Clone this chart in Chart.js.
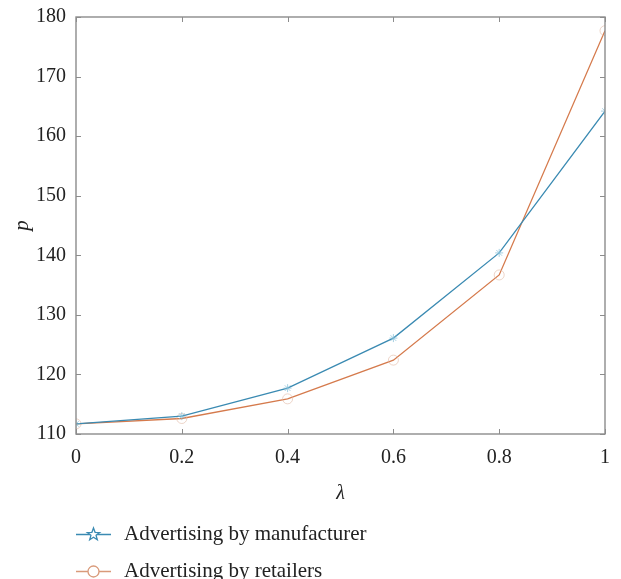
<!DOCTYPE html>
<html>
<head>
<meta charset="utf-8">
<script src="https://cdn.jsdelivr.net/npm/chart.js@4.4.1/dist/chart.umd.min.js"></script>
<style>
  html, body { margin: 0; padding: 0; background: #fff; }
  #wrap { position: relative; width: 621px; height: 579px; }
</style>
</head>
<body>
<div id="wrap"><canvas id="c" width="621" height="579"></canvas></div>
<script>
// λ values on the horizontal axis
const lambdaValues = [0, 0.2, 0.4, 0.6, 0.8, 1];
// Price p under each advertising arrangement
const manufacturerP = [111.7, 113.0, 117.7, 126.1, 140.4, 164.2];
const retailerP = [111.7, 112.6, 115.9, 122.4, 136.7, 177.7];
const seriesNames = ['Advertising by manufacturer', 'Advertising by retailers'];
const xTicks = [0, 0.2, 0.4, 0.6, 0.8, 1];
const yTicks = [110, 120, 130, 140, 150, 160, 170, 180];

const blue = '#3a8ab2';
const orange = '#d57a4c';
const serif = '"Liberation Serif", "DejaVu Serif", serif';

function toPoints(xs, ys) { return xs.map((x, i) => ({ x: x, y: ys[i] })); }

// Box frame with inward ticks on all four sides, plus a line+marker legend
const frameAndLegend = {
  id: 'frameAndLegend',
  afterDatasetsDraw(chart) {
    const { ctx, chartArea: a, scales } = chart;
    ctx.save();
    ctx.strokeStyle = '#8c8c8c';
    ctx.lineWidth = 1.4;
    ctx.strokeRect(a.left, a.top, a.right - a.left, a.bottom - a.top);
    const len = 5;
    ctx.lineWidth = 1;
    ctx.beginPath();
    xTicks.forEach(v => {
      const px = Math.round(scales.x.getPixelForValue(v)) + 0.5;
      ctx.moveTo(px, a.bottom); ctx.lineTo(px, a.bottom - len);
      ctx.moveTo(px, a.top); ctx.lineTo(px, a.top + len);
    });
    yTicks.forEach(v => {
      const py = Math.round(scales.y.getPixelForValue(v)) + 0.5;
      ctx.moveTo(a.left, py); ctx.lineTo(a.left + len, py);
      ctx.moveTo(a.right, py); ctx.lineTo(a.right - len, py);
    });
    ctx.stroke();

    // legend
    const rows = [
      { y: 534, color: blue, marker: 'pentagram' },
      { y: 571, color: '#d99a7a', marker: 'circle' }
    ];
    ctx.font = '21px ' + serif;
    ctx.textBaseline = 'middle';
    rows.forEach((r, i) => {
      ctx.strokeStyle = r.color;
      ctx.lineWidth = 1.3;
      ctx.beginPath();
      ctx.moveTo(76, r.y + 0.5); ctx.lineTo(111, r.y + 0.5);
      ctx.stroke();
      const cx = 93.5, cy = r.y;
      ctx.fillStyle = '#fff';
      ctx.beginPath();
      if (r.marker === 'circle') {
        ctx.arc(cx, cy + 0.5, 5.5, 0, Math.PI * 2);
      } else {
        for (let k = 0; k < 10; k++) {
          const rad = k % 2 === 0 ? 6.5 : 2.7;
          const ang = -Math.PI / 2 + k * Math.PI / 5;
          const px = cx + rad * Math.cos(ang), py = cy + 0.5 + rad * Math.sin(ang);
          if (k === 0) ctx.moveTo(px, py); else ctx.lineTo(px, py);
        }
        ctx.closePath();
      }
      ctx.fill();
      ctx.stroke();
      ctx.fillStyle = '#222';
      ctx.textAlign = 'left';
      ctx.fillText(seriesNames[i], 124, r.y);
    });
    ctx.restore();
  }
};

new Chart(document.getElementById('c'), {
  type: 'line',
  data: {
    datasets: [
      {
        label: seriesNames[0],
        data: toPoints(lambdaValues, manufacturerP),
        borderColor: blue,
        borderWidth: 1.3,
        pointStyle: 'star',
        pointRadius: 4,
        pointBorderColor: 'rgba(130,190,215,0.7)',
        pointBackgroundColor: 'rgba(0,0,0,0)',
        pointBorderWidth: 1,
        tension: 0
      },
      {
        label: seriesNames[1],
        data: toPoints(lambdaValues, retailerP),
        borderColor: orange,
        borderWidth: 1.3,
        pointStyle: 'circle',
        pointRadius: 5,
        pointBorderColor: 'rgba(225,185,165,0.6)',
        pointBackgroundColor: 'rgba(0,0,0,0)',
        pointBorderWidth: 1,
        tension: 0
      }
    ]
  },
  options: {
    responsive: false,
    animation: false,
    events: [],
    layout: { padding: { top: 17, right: 16, left: 0, bottom: 73 } },
    plugins: { legend: { display: false }, tooltip: { enabled: false } },
    scales: {
      x: {
        type: 'linear',
        min: 0, max: 1,
        afterBuildTicks: s => { s.ticks = xTicks.map(v => ({ value: v })); },
        afterFit: s => { s.height = 72; },
        grid: { display: false },
        border: { display: false },
        ticks: {
          color: '#222',
          font: { family: serif, size: 20 },
          padding: 4,
          maxRotation: 0,
          callback: v => String(v)
        },
        title: {
          display: true,
          text: 'λ',
          color: '#222',
          font: { family: serif, size: 20, style: 'italic' },
          padding: { top: 4, bottom: 0 }
        }
      },
      y: {
        min: 110, max: 180,
        afterBuildTicks: s => { s.ticks = yTicks.map(v => ({ value: v })); },
        afterFit: s => { s.width = 76; },
        grid: { display: false },
        border: { display: false },
        ticks: {
          color: '#222',
          font: { family: serif, size: 20 },
          padding: 2
        },
        title: {
          display: true,
          text: 'p',
          color: '#222',
          font: { family: serif, size: 21, style: 'italic' },
          padding: { top: 10, bottom: 0 }
        }
      }
    }
  },
  plugins: [frameAndLegend]
});
</script>
</body>
</html>
